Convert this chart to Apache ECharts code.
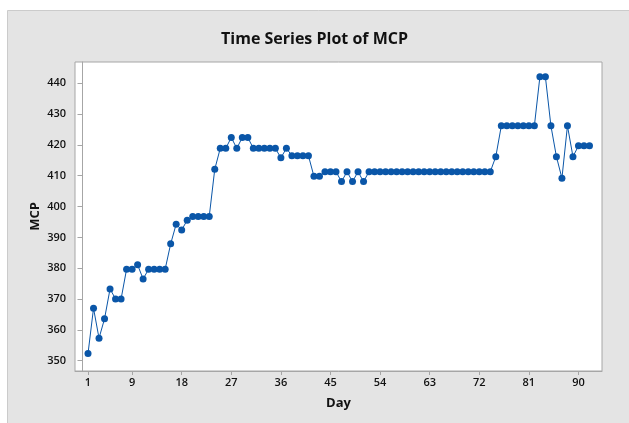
<!DOCTYPE html>
<html>
<head>
<meta charset="utf-8">
<script src="https://cdn.jsdelivr.net/npm/echarts@6/dist/echarts.min.js"></script>
<style>
  html, body { margin: 0; padding: 0; background: #ffffff; }
  #chart { width: 629px; height: 423px; }
</style>
</head>
<body>
<div id="chart"></div>
<script>
// Day index 1..92
const days = [];
for (let d = 1; d <= 92; d++) days.push(d);

// MCP values
const mcp = [
  352.3, 367.0, 357.3, 363.6, 373.3, 370.0, 370.0, 379.7, 379.7, 381.1,
  376.5, 379.7, 379.7, 379.7, 379.7, 387.9, 394.3, 392.4, 395.6, 396.8,
  396.8, 396.8, 396.8, 412.1, 418.9, 418.9, 422.4, 418.9, 422.4, 422.4,
  418.9, 418.9, 418.9, 418.9, 418.9, 415.8, 418.9, 416.5, 416.5, 416.5,
  416.5, 409.8, 409.8, 411.3, 411.3, 411.3, 408.1, 411.3, 408.1, 411.3,
  408.1, 411.3, 411.3, 411.3, 411.3, 411.3, 411.3, 411.3, 411.3, 411.3,
  411.3, 411.3, 411.3, 411.3, 411.3, 411.3, 411.3, 411.3, 411.3, 411.3,
  411.3, 411.3, 411.3, 411.3, 416.2, 426.2, 426.2, 426.2, 426.2, 426.2,
  426.2, 426.2, 442.1, 442.1, 426.2, 416.2, 409.2, 426.2, 416.2, 419.7,
  419.7, 419.7
];

const xTicks = [1, 9, 18, 27, 36, 45, 54, 63, 72, 81, 90];
const yTicks = [350, 360, 370, 380, 390, 400, 410, 420, 430, 440];

const chart = echarts.init(document.getElementById('chart'), null, { renderer: 'canvas' });
const FONT = '"Open Sans", "Noto Sans", sans-serif';

chart.setOption({
  backgroundColor: '#ffffff',
  animation: false,
  graphic: [{
    type: 'rect',
    z: -10,
    shape: { x: 7.5, y: 10.5, width: 640, height: 430 },
    style: { fill: '#e4e4e4', stroke: '#cbcbcb', lineWidth: 1 }
  }],
  title: {
    text: 'Time Series Plot of MCP',
    left: 'center',
    top: 26,
    textStyle: { fontFamily: FONT, fontSize: 16, fontWeight: 'bold', color: '#111' }
  },
  grid: {
    left: 75, right: 27, top: 62, bottom: 52,
    show: true, backgroundColor: '#ffffff', borderColor: '#a6a6a6', borderWidth: 1
  },
  xAxis: {
    type: 'value',
    min: -1.36, max: 94.27,
    name: 'Day',
    nameLocation: 'middle',
    nameGap: 26,
    nameMoveOverlap: false,
    nameTextStyle: { fontFamily: FONT, fontSize: 13, fontWeight: 'bold', color: '#111' },
    axisLine: { show: true, onZero: false, lineStyle: { color: '#a6a6a6' } },
    axisTick: { show: true, length: 4, customValues: xTicks, lineStyle: { color: '#a6a6a6' } },
    axisLabel: { customValues: xTicks, margin: 6, fontFamily: FONT, fontSize: 11, fontWeight: 600, color: '#111' },
    splitLine: { show: false }
  },
  yAxis: {
    type: 'value',
    min: 346.66, max: 446.9,
    name: 'MCP',
    nameLocation: 'middle',
    nameGap: 33,
    nameMoveOverlap: false,
    nameTextStyle: { fontFamily: FONT, fontSize: 13, fontWeight: 'bold', color: '#111' },
    axisLine: { show: true, lineStyle: { color: '#a6a6a6' } },
    axisTick: { show: true, length: 5, customValues: yTicks, lineStyle: { color: '#a6a6a6' } },
    axisLabel: { customValues: yTicks, margin: 9, fontFamily: FONT, fontSize: 11, fontWeight: 600, color: '#111' },
    splitLine: { show: false }
  },
  series: [{
    type: 'line',
    data: days.map((d, i) => [d, mcp[i]]),
    symbol: 'circle',
    symbolSize: 7,
    showSymbol: true,
    lineStyle: { color: '#0a56a8', width: 1 },
    itemStyle: { color: '#0a56a8' }
  }]
});
</script>
</body>
</html>
